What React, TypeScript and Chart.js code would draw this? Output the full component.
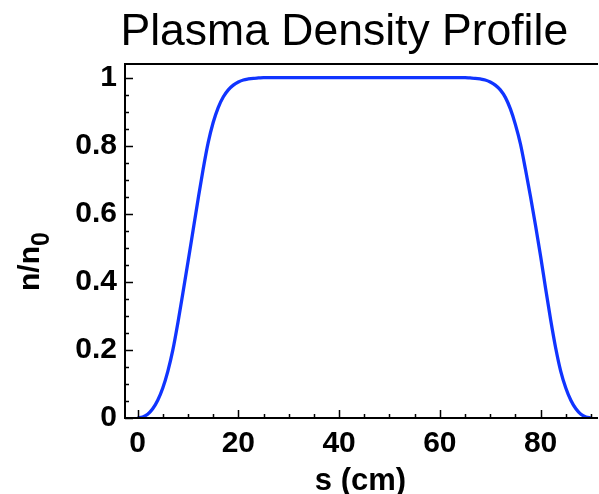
import React, { useEffect, useRef } from "react";
import { Chart, registerables } from "chart.js";

Chart.register(...registerables);

// s (cm) positions and normalised density n/n0
const sValues: number[] = [
  0, 1, 2, 3, 4, 5, 6, 7, 8, 9, 10, 11, 12, 13, 14, 15, 16, 17, 18, 19, 20, 21, 22, 23, 24, 25,
  30, 35, 40, 45, 50, 55, 60,
  65, 66, 67, 68, 69, 70, 71, 72, 73, 74, 75, 76, 77, 78, 79, 80, 81, 82, 83, 84, 85, 86, 87, 88, 89, 90,
];
const nValues: number[] = [
  0, 0.003, 0.011, 0.027, 0.052, 0.088, 0.137, 0.2, 0.28, 0.368, 0.458, 0.55, 0.642, 0.73, 0.808, 0.868, 0.912, 0.943, 0.964, 0.978, 0.987, 0.993, 0.996, 0.998, 0.999, 1,
  1, 1, 1, 1, 1, 1, 1,
  1, 0.999, 0.998, 0.996, 0.993, 0.987, 0.978, 0.964, 0.942, 0.908, 0.862, 0.805, 0.73, 0.65, 0.565, 0.475, 0.38, 0.288, 0.205, 0.137, 0.088, 0.052, 0.027, 0.011, 0.003, 0,
];

const xMajorTicks: number[] = [0, 20, 40, 60, 80];
const yMajorTicks: number[] = [0, 0.2, 0.4, 0.6, 0.8, 1];

const TITLE = "Plasma Density Profile";
const X_TITLE = "s (cm)";
const Y_TITLE_MAIN = "n/n";
const Y_TITLE_SUB = "0";

const FONT = "'Liberation Sans', Arial, Helvetica, sans-serif";

const isMajor = (v: number, list: number[]) => list.some((m) => Math.abs(m - v) < 1e-6);

const framePlugin = {
  id: "frame",
  afterDraw(chart: any) {
    const { ctx, chartArea } = chart;
    const { left, right, top, bottom } = chartArea;
    const xs = chart.scales.x;
    const ys = chart.scales.y;
    ctx.save();
    ctx.strokeStyle = "#000";
    // inward ticks
    ctx.lineWidth = 1.5;
    ctx.beginPath();
    xs.ticks.forEach((t: any) => {
      const px = Math.round(xs.getPixelForValue(t.value)) + 0.5;
      const len = isMajor(t.value, xMajorTicks) ? 8 : 4;
      ctx.moveTo(px, bottom);
      ctx.lineTo(px, bottom - len);
    });
    ys.ticks.forEach((t: any) => {
      const py = Math.round(ys.getPixelForValue(t.value)) + 0.5;
      const len = isMajor(t.value, yMajorTicks) ? 8 : 4;
      ctx.moveTo(left, py);
      ctx.lineTo(left + len, py);
    });
    ctx.stroke();
    // frame lines
    ctx.lineWidth = 2;
    ctx.beginPath();
    ctx.moveTo(left, top);
    ctx.lineTo(left, bottom);
    ctx.lineTo(right + 2, bottom);
    ctx.moveTo(left - 1, top);
    ctx.lineTo(right + 2, top);
    ctx.stroke();

    // title
    ctx.fillStyle = "#000";
    ctx.textBaseline = "alphabetic";
    ctx.textAlign = "left";
    ctx.font = `44.5px ${FONT}`;
    ctx.fillText(TITLE, 120.5, 44.5);

    // x title
    ctx.font = `bold 31px ${FONT}`;
    ctx.textAlign = "center";
    ctx.fillText(X_TITLE, (left + right) / 2, 489.5);

    // y title with subscript
    ctx.save();
    ctx.translate(39, 291);
    ctx.rotate(-Math.PI / 2);
    ctx.textAlign = "left";
    ctx.font = `bold 30px ${FONT}`;
    ctx.fillText(Y_TITLE_MAIN, 0, 0);
    const w = ctx.measureText(Y_TITLE_MAIN).width;
    ctx.font = `bold 25px ${FONT}`;
    ctx.fillText(Y_TITLE_SUB, w, 10);
    ctx.restore();

    ctx.restore();
  },
};

export default function App() {
  const canvasRef = useRef<HTMLCanvasElement | null>(null);

  useEffect(() => {
    if (!canvasRef.current) return;
    const points = sValues.map((s, i) => ({ x: s, y: nValues[i] }));
    const chart = new Chart(canvasRef.current, {
      type: "line",
      data: {
        datasets: [
          {
            data: points,
            borderColor: "rgb(16,52,255)",
            borderWidth: 3.3,
            pointRadius: 0,
            fill: false,
            cubicInterpolationMode: "monotone",
          },
        ],
      },
      options: {
        responsive: false,
        animation: false,
        layout: { padding: { top: 64, right: 1, left: 0, bottom: 0 } },
        plugins: {
          legend: { display: false },
          tooltip: { enabled: false },
          title: { display: false },
        },
        scales: {
          x: {
            type: "linear",
            min: -2.5,
            max: 91,
            grid: { display: false, drawTicks: false },
            border: { display: false },
            ticks: {
              stepSize: 5,
              includeBounds: false,
              autoSkip: false,
              maxRotation: 0,
              padding: 8,
              color: "#000",
              font: { family: FONT, size: 30, weight: "bold" },
              callback: (v: any) => (isMajor(Number(v), xMajorTicks) ? String(Math.round(Number(v))) : ""),
            },
            afterFit: (scale: any) => {
              scale.height = 76;
            },
          },
          y: {
            type: "linear",
            min: 0,
            max: 1.04,
            grid: { display: false, drawTicks: false },
            border: { display: false },
            ticks: {
              stepSize: 0.05,
              includeBounds: false,
              autoSkip: false,
              padding: 8,
              color: "#000",
              font: { family: FONT, size: 30, weight: "bold" },
              callback: (v: any) =>
                isMajor(Number(v), yMajorTicks) ? String(Math.round(Number(v) * 10) / 10) : "",
            },
            afterFit: (scale: any) => {
              scale.width = 125;
            },
          },
        },
      },
      plugins: [framePlugin],
    });
    return () => chart.destroy();
  }, []);

  return (
    <div style={{ position: "absolute", left: 0, top: 0, width: 599, height: 494, background: "#fff" }}>
      <canvas ref={canvasRef} width={599} height={494} style={{ display: "block" }} />
    </div>
  );
}
